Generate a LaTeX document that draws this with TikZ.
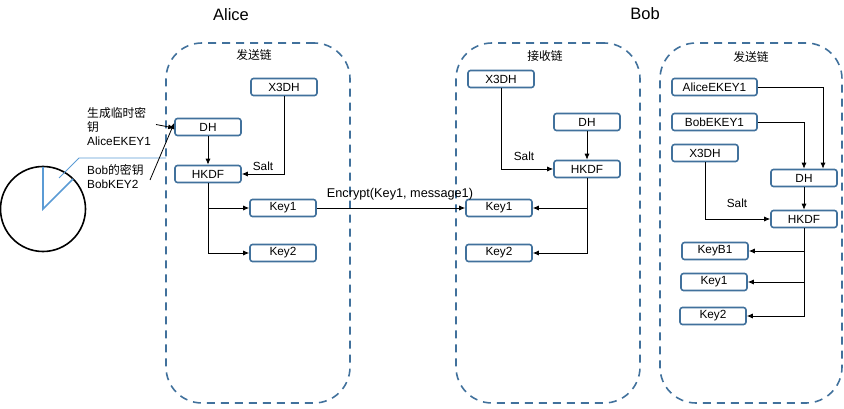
\documentclass[tikz,border=0pt]{standalone}
\usepackage{fontspec}
\setmainfont{Liberation Sans}
\newfontfamily\cjk{Noto Sans CJK SC}
\usepackage{xcolor}
\usepackage{tikz}
\usetikzlibrary{arrows.meta}
\definecolor{boxblue}{HTML}{41719C}
\definecolor{rayblue}{HTML}{5B9BD5}

\begin{document}
\begin{tikzpicture}[x=1pt, y=-1pt, font=\fontsize{11.8pt}{14pt}\selectfont,
		chainbox/.style={draw=boxblue, line width=1.6pt, dash pattern=on 8pt off 6pt, rounded corners=36pt, minimum height=360pt},
		keybox/.style={draw=boxblue, line width=1.6pt, rounded corners=2.5pt, minimum width=66pt, minimum height=17pt, inner sep=0pt, fill=white},
		link/.style={-{Latex[length=6pt, width=5pt]}, line width=0.8pt},
		plain/.style={inner sep=0pt, align=left},
		heading/.style={plain, font=\fontsize{16.5pt}{19pt}\selectfont}]
	\useasboundingbox (0,0) rectangle (844,409);

	\node[chainbox, minimum width=184pt] (chainA) at (258,223) {};
	\node[chainbox, minimum width=184pt] (chainR) at (548,223) {};
	\node[chainbox, minimum width=182pt] (chainS) at (751,223) {};

	\node[heading] (alice) at (231,15) {Alice};
	\node[heading] (bob) at (645,14) {Bob};
	\node[plain] (titleA) at (254,55) {\cjk 发送链};
	\node[plain] (titleR) at (545,56) {\cjk 接收链};
	\node[plain] (titleS) at (751,57) {\cjk 发送链};

	\node[keybox] (x3dhA) at (284,87) {X3DH};
	\node[keybox] (dhA) at (208,127) {DH};
	\node[keybox] (hkdfA) at (208,174) {HKDF};
	\node[keybox] (keyoneA) at (283,208) {Key1};
	\node[keybox] (keytwoA) at (283,253) {Key2};

	\node[keybox] (x3dhR) at (501,79) {X3DH};
	\node[keybox] (dhR) at (587,122) {DH};
	\node[keybox] (hkdfR) at (587,169) {HKDF};
	\node[keybox] (keyoneR) at (499,208) {Key1};
	\node[keybox] (keytwoR) at (499,253) {Key2};

	\node[keybox, minimum width=85pt] (aliceS) at (714.5,87) {AliceEKEY1};
	\node[keybox, minimum width=85pt] (bobS) at (714.5,122) {BobEKEY1};
	\node[keybox] (x3dhS) at (705,153) {X3DH};
	\node[keybox] (dhS) at (804,178) {DH};
	\node[keybox] (hkdfS) at (804,219) {HKDF};
	\node[keybox] (keybS) at (715,251) {KeyB1};
	\node[keybox] (keyoneS) at (714,282) {Key1};
	\node[keybox] (keytwoS) at (713,316) {Key2};

	\node[plain, anchor=west] (ekey) at (87,127) {{\cjk 生成临时密}\\{\cjk 钥}\\AliceEKEY1};
	\node[plain, anchor=west] (bkey) at (87,177) {Bob{\cjk 的密钥}\\BobKEY2};
	\node[plain] (saltA) at (263,166) {Salt};
	\node[plain] (saltR) at (524,156) {Salt};
	\node[plain] (saltS) at (737,203) {Salt};
	\node[plain, font=\fontsize{12.7pt}{15pt}\selectfont] (enc) at (400,194) {Encrypt(Key1, message1)};

	\node[draw, line width=1.6pt, circle, minimum size=85pt, inner sep=0pt] (clock) at (43,209) {};
	\coordinate (clocktop) at (43,167);
	\coordinate (clockedge) at (73,179);
	\coordinate (tipstart) at (59,178);
	\coordinate (tipbend) at (79,158);
	\coordinate (tipend) at (166,158);
	\coordinate (ekeyend) at (156,124.5);
	\coordinate (bkeyend) at (150,180);

	\draw[rayblue, line width=1.6pt] (clocktop) -- (clock.center) -- (clockedge);
	\draw[rayblue, line width=0.8pt] (tipstart) -- (tipbend) -- (tipend);

	\draw[link] (ekeyend) -- ([yshift=-1pt]dhA.west);
	\draw[link] (bkeyend) -- ([yshift=4pt]dhA.west);
	\draw[link] (x3dhA) |- (hkdfA);
	\draw[link] (dhA) -- (hkdfA);
	\draw[link] (hkdfA) |- (keyoneA);
	\draw[link] (hkdfA) |- (keytwoA);
	\draw[link] (keyoneA) -- (keyoneR);

	\draw[link] (x3dhR) |- (hkdfR);
	\draw[link] (dhR) -- (hkdfR);
	\draw[link] (hkdfR) |- (keyoneR);
	\draw[link] (hkdfR) |- (keytwoR);

	\draw[link] (aliceS) -| ([xshift=19pt]dhS.north);
	\draw[link] (bobS) -| (dhS);
	\draw[link] (dhS) -- (hkdfS);
	\draw[link] (x3dhS) |- (hkdfS);
	\draw[link] (hkdfS) |- (keybS);
	\draw[link] (hkdfS) |- (keyoneS);
	\draw[link] (hkdfS) |- (keytwoS);
\end{tikzpicture}
\end{document}
